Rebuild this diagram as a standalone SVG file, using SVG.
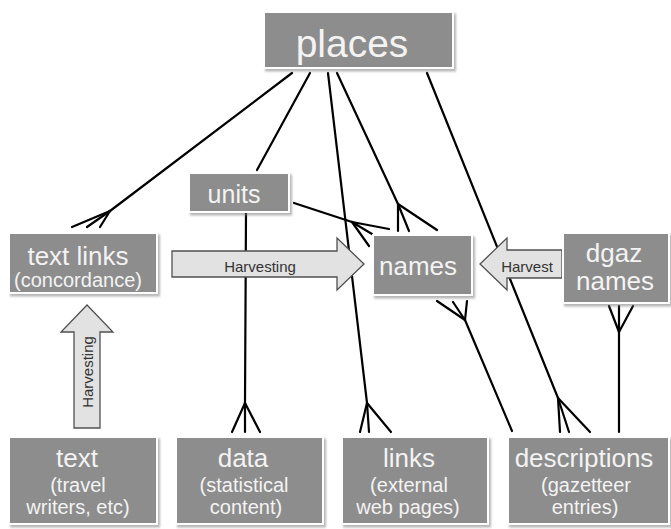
<svg xmlns="http://www.w3.org/2000/svg" width="671" height="529" viewBox="0 0 671 529">
  <defs>
    <filter id="shadow" x="-10%" y="-10%" width="125%" height="130%">
      <feDropShadow dx="2" dy="2.5" stdDeviation="1.2" flood-color="#7a7a7a" flood-opacity="0.55"/>
    </filter>
    <style>
      .box { fill: #8d8d8d; stroke: #ffffff; stroke-width: 2; filter: url(#shadow); }
      .lbl { font-family: "Liberation Sans", Arial, sans-serif; fill: #f3f3f3; text-anchor: middle; }
      .big { font-size: 26px; }
      .sub { font-size: 20px; }
      .conn { fill: none; stroke: #000; stroke-width: 2.2; stroke-linecap: round; stroke-linejoin: round; }
      .arrow { fill: #e2e2e2; stroke: #505050; stroke-width: 1.3; stroke-linejoin: miter; }
      .alabel { font-family: "Liberation Sans", Arial, sans-serif; font-size: 15px; fill: #333; text-anchor: middle; }
    </style>
  </defs>

  <rect width="671" height="529" fill="#ffffff"/>

  <!-- relationship lines with crow's-foot ends -->
  <g id="connectors">
    <!-- places to text links -->
    <polyline class="conn" points="292,73 110,211"/>
    <polyline class="conn" points="110,211 72,227"/>
    <polyline class="conn" points="110,211 87,227"/>
    <polyline class="conn" points="110,211 100,227"/>
    <!-- places to units -->
    <polyline class="conn" points="310,73 257,170"/>
    <!-- units to data -->
    <polyline class="conn" points="246,213 245,403"/>
    <polyline class="conn" points="245,403 232,432"/>
    <polyline class="conn" points="245,403 245,432"/>
    <polyline class="conn" points="245,403 260,432"/>
    <!-- places to links -->
    <polyline class="conn" points="328,73 367,403"/>
    <polyline class="conn" points="367,403 360,432"/>
    <polyline class="conn" points="367,403 369,432"/>
    <polyline class="conn" points="367,403 391,432"/>
    <!-- places to names -->
    <polyline class="conn" points="337,73 398,204"/>
    <polyline class="conn" points="398,204 398,231"/>
    <polyline class="conn" points="398,204 409,231"/>
    <polyline class="conn" points="398,204 437,230"/>
    <!-- units to names -->
    <polyline class="conn" points="294,203 352,222"/>
    <polyline class="conn" points="352,222 389,229"/>
    <polyline class="conn" points="352,222 372,234"/>
    <polyline class="conn" points="352,222 369,246"/>
    <!-- places to descriptions -->
    <polyline class="conn" points="427,73 558,398"/>
    <polyline class="conn" points="558,398 560,432"/>
    <polyline class="conn" points="558,398 569,432"/>
    <polyline class="conn" points="558,398 590,432"/>
    <!-- names to descriptions -->
    <polyline class="conn" points="465,320 512,431"/>
    <polyline class="conn" points="465,320 437,301"/>
    <polyline class="conn" points="465,320 453,302"/>
    <polyline class="conn" points="465,320 467,301"/>
    <!-- dgaz names to descriptions -->
    <polyline class="conn" points="619,332 619,432"/>
    <polyline class="conn" points="619,332 609,306"/>
    <polyline class="conn" points="619,332 619,306"/>
    <polyline class="conn" points="619,332 633,306"/>
  </g>

  <!-- harvesting arrows -->
  <g id="harvest-right">
    <polygon class="arrow" points="172,251 337,251 337,238 364,264 337,290 337,277 172,277"/>
    <text class="alabel" x="260" y="272">Harvesting</text>
  </g>
  <g id="harvest-left">
    <polygon class="arrow" points="562,250 507,250 507,238 480,264 507,290 507,278 562,278"/>
    <text class="alabel" x="527" y="272">Harvest</text>
  </g>
  <g id="harvest-up">
    <polygon class="arrow" points="74,428 74,332 61,332 87,305 113,332 100,332 100,428"/>
    <text class="alabel" transform="translate(92.5,372) rotate(-90)">Harvesting</text>
  </g>

  <!-- entities -->
  <g id="places">
    <rect class="box" x="264" y="12" width="189" height="56"/>
    <text class="lbl" x="352" y="57" font-size="39">places</text>
  </g>
  <g id="units">
    <rect class="box" x="189" y="173" width="100" height="39"/>
    <text class="lbl" x="234" y="203" font-size="25">units</text>
  </g>
  <g id="text-links">
    <rect class="box" x="9" y="233" width="148" height="60"/>
    <text class="lbl big" x="78" y="265">text links</text>
    <text class="lbl sub" x="78" y="287">(concordance)</text>
  </g>
  <g id="names">
    <rect class="box" x="373" y="235" width="99" height="60"/>
    <text class="lbl big" x="418" y="275">names</text>
  </g>
  <g id="dgaz-names">
    <rect class="box" x="563" y="233" width="106" height="70"/>
    <text class="lbl big" x="614" y="262">dgaz</text>
    <text class="lbl big" x="615" y="290">names</text>
  </g>
  <g id="text">
    <rect class="box" x="9" y="437" width="148" height="87"/>
    <text class="lbl big" x="77" y="467">text</text>
    <text class="lbl sub" x="78" y="492">(travel</text>
    <text class="lbl sub" x="78" y="514">writers, etc)</text>
  </g>
  <g id="data">
    <rect class="box" x="176" y="437" width="147" height="87"/>
    <text class="lbl big" x="243" y="467">data</text>
    <text class="lbl sub" x="244" y="492">(statistical</text>
    <text class="lbl sub" x="246" y="514">content)</text>
  </g>
  <g id="links">
    <rect class="box" x="342" y="437" width="146" height="87"/>
    <text class="lbl big" x="409" y="467">links</text>
    <text class="lbl sub" x="409" y="492">(external</text>
    <text class="lbl sub" x="408" y="514">web pages)</text>
  </g>
  <g id="descriptions">
    <rect class="box" x="508" y="437" width="161" height="87"/>
    <text class="lbl big" x="584" y="467">descriptions</text>
    <text class="lbl sub" x="586" y="492">(gazetteer</text>
    <text class="lbl sub" x="585" y="514">entries)</text>
  </g>
</svg>
